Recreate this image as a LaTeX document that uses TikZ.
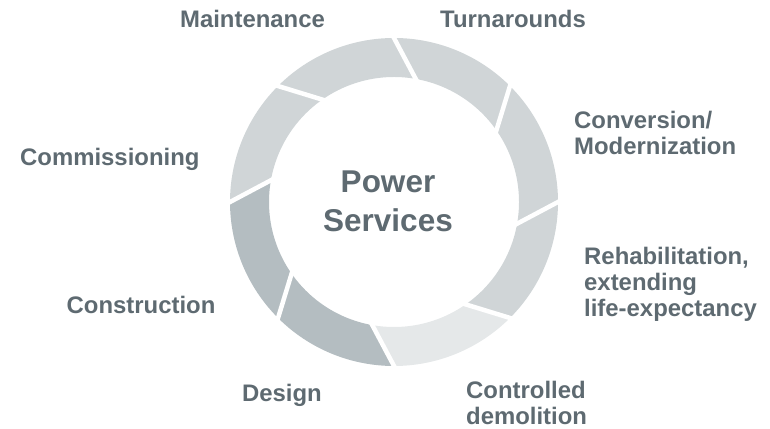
\documentclass[tikz,border=0pt]{standalone}
\usepackage{fontspec}
\setmainfont{Liberation Sans}
\definecolor{segdark}{HTML}{B4BDC1}
\definecolor{seglight}{HTML}{D0D5D7}
\definecolor{segpale}{HTML}{E5E8E9}
\definecolor{labelgray}{HTML}{5E6A71}
\tikzset{
    stage/.style = {text = labelgray, font = \bfseries\fontsize{23.9}{26}\selectfont, inner sep = 0},
    gap/.style = {white, line width = 4.5, shorten <= -4pt, shorten >= -4pt}
}
\begin{document}
\begin{tikzpicture}[x = 1pt, y = 1pt]
    \useasboundingbox (0, 0) rectangle (770, 428);
    \begin{scope}[shift = {(394, 226)}]
        \fill [seglight] (90:164) arc (90:45:164) -- (35:125) arc (35:80:125) -- cycle;
        \fill [seglight] (45:164) arc (45:0:164) -- (-10:125) arc (-10:35:125) -- cycle;
        \fill [seglight] (0:164) arc (0:-45:164) -- (-55:125) arc (-55:-10:125) -- cycle;
        \fill [segpale] (-45:164) arc (-45:-90:164) -- (-100:125) arc (-100:-55:125) -- cycle;
        \fill [segdark] (-90:164) arc (-90:-135:164) -- (-145:125) arc (-145:-100:125) -- cycle;
        \fill [segdark] (-135:164) arc (-135:-180:164) -- (-190:125) arc (-190:-145:125) -- cycle;
        \fill [seglight] (180:164) arc (180:135:164) -- (125:125) arc (125:170:125) -- cycle;
        \fill [seglight] (135:164) arc (135:90:164) -- (80:125) arc (80:125:125) -- cycle;
        \draw [gap] (90:164) -- (80:125);
        \draw [gap] (45:164) -- (35:125);
        \draw [gap] (0:164) -- (-10:125);
        \draw [gap] (-45:164) -- (-55:125);
        \draw [gap] (-90:164) -- (-100:125);
        \draw [gap] (-135:164) -- (-145:125);
        \draw [gap] (180:164) -- (170:125);
        \draw [gap] (135:164) -- (125:125);
    \end{scope}
    \node (hub) [text = labelgray, font = \bfseries\fontsize{31.5}{39}\selectfont, align = center, inner sep = 0, anchor = base] at (388, 196) {Power\\Services};
    \node (maintenance) [stage, anchor = base] at (252.5, 400) {Maintenance};
    \node (turnarounds) [stage, anchor = base] at (513, 400) {Turnarounds};
    \node (conversion) [stage, align = left, anchor = base west] at (574, 273) {Conversion/\\Modernization};
    \node (commissioning) [stage, anchor = base west] at (20, 262.5) {Commissioning};
    \node (rehab) [stage, align = left, anchor = base west] at (584, 111) {Rehabilitation,\\extending\\life-expectancy};
    \node (construction) [stage, anchor = base] at (141, 114.5) {Construction};
    \node (design) [stage, anchor = base] at (282, 27) {Design};
    \node (demolition) [stage, align = left, anchor = base west] at (466, 4) {Controlled\\demolition};
\end{tikzpicture}
\end{document}
